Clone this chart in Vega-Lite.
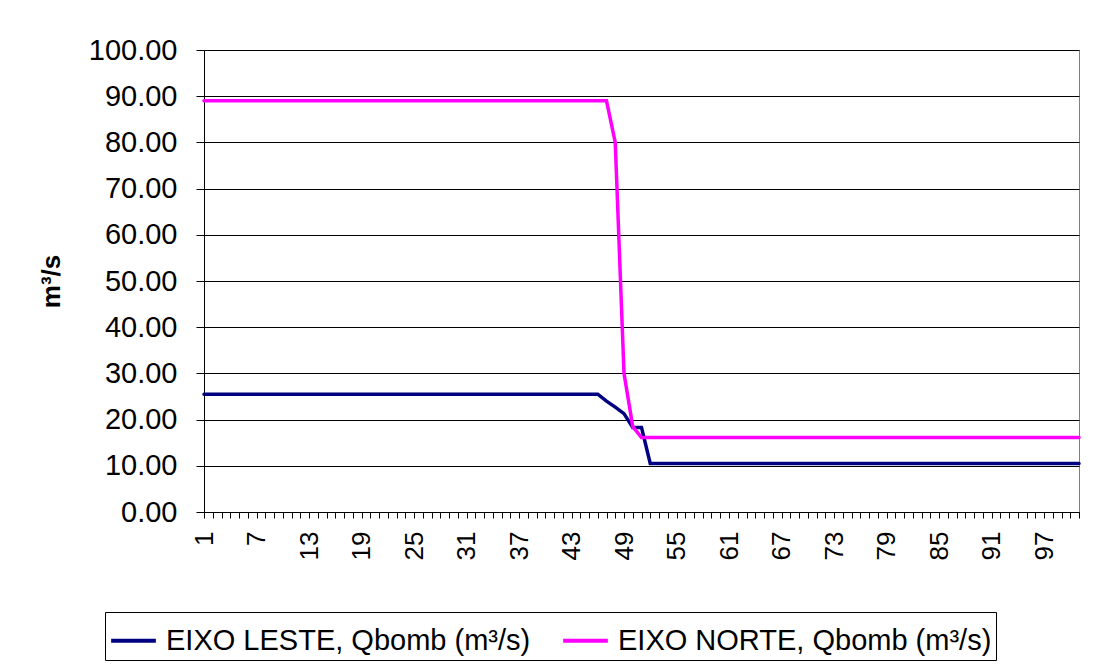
{
  "$schema": "https://vega.github.io/schema/vega-lite/v6.json",
  "autosize": "none",
  "width": 875,
  "height": 462,
  "padding": {"left": 204, "top": 50, "right": 14, "bottom": 156},
  "background": "white",
  "config": {
    "view": {"stroke": "#808080", "strokeWidth": 1},
    "font": "Liberation Sans"
  },
  "data": {
    "values": [
      {"x": 1, "leste": 25.5, "norte": 89.0},
      {"x": 2, "leste": 25.5, "norte": 89.0},
      {"x": 3, "leste": 25.5, "norte": 89.0},
      {"x": 4, "leste": 25.5, "norte": 89.0},
      {"x": 5, "leste": 25.5, "norte": 89.0},
      {"x": 6, "leste": 25.5, "norte": 89.0},
      {"x": 7, "leste": 25.5, "norte": 89.0},
      {"x": 8, "leste": 25.5, "norte": 89.0},
      {"x": 9, "leste": 25.5, "norte": 89.0},
      {"x": 10, "leste": 25.5, "norte": 89.0},
      {"x": 11, "leste": 25.5, "norte": 89.0},
      {"x": 12, "leste": 25.5, "norte": 89.0},
      {"x": 13, "leste": 25.5, "norte": 89.0},
      {"x": 14, "leste": 25.5, "norte": 89.0},
      {"x": 15, "leste": 25.5, "norte": 89.0},
      {"x": 16, "leste": 25.5, "norte": 89.0},
      {"x": 17, "leste": 25.5, "norte": 89.0},
      {"x": 18, "leste": 25.5, "norte": 89.0},
      {"x": 19, "leste": 25.5, "norte": 89.0},
      {"x": 20, "leste": 25.5, "norte": 89.0},
      {"x": 21, "leste": 25.5, "norte": 89.0},
      {"x": 22, "leste": 25.5, "norte": 89.0},
      {"x": 23, "leste": 25.5, "norte": 89.0},
      {"x": 24, "leste": 25.5, "norte": 89.0},
      {"x": 25, "leste": 25.5, "norte": 89.0},
      {"x": 26, "leste": 25.5, "norte": 89.0},
      {"x": 27, "leste": 25.5, "norte": 89.0},
      {"x": 28, "leste": 25.5, "norte": 89.0},
      {"x": 29, "leste": 25.5, "norte": 89.0},
      {"x": 30, "leste": 25.5, "norte": 89.0},
      {"x": 31, "leste": 25.5, "norte": 89.0},
      {"x": 32, "leste": 25.5, "norte": 89.0},
      {"x": 33, "leste": 25.5, "norte": 89.0},
      {"x": 34, "leste": 25.5, "norte": 89.0},
      {"x": 35, "leste": 25.5, "norte": 89.0},
      {"x": 36, "leste": 25.5, "norte": 89.0},
      {"x": 37, "leste": 25.5, "norte": 89.0},
      {"x": 38, "leste": 25.5, "norte": 89.0},
      {"x": 39, "leste": 25.5, "norte": 89.0},
      {"x": 40, "leste": 25.5, "norte": 89.0},
      {"x": 41, "leste": 25.5, "norte": 89.0},
      {"x": 42, "leste": 25.5, "norte": 89.0},
      {"x": 43, "leste": 25.5, "norte": 89.0},
      {"x": 44, "leste": 25.5, "norte": 89.0},
      {"x": 45, "leste": 25.5, "norte": 89.0},
      {"x": 46, "leste": 25.5, "norte": 89.0},
      {"x": 47, "leste": 24.0, "norte": 89.0},
      {"x": 48, "leste": 22.7, "norte": 80.0},
      {"x": 49, "leste": 21.3, "norte": 30.0},
      {"x": 50, "leste": 18.3, "norte": 18.5},
      {"x": 51, "leste": 18.3, "norte": 16.1},
      {"x": 52, "leste": 10.5, "norte": 16.1},
      {"x": 53, "leste": 10.5, "norte": 16.1},
      {"x": 54, "leste": 10.5, "norte": 16.1},
      {"x": 55, "leste": 10.5, "norte": 16.1},
      {"x": 56, "leste": 10.5, "norte": 16.1},
      {"x": 57, "leste": 10.5, "norte": 16.1},
      {"x": 58, "leste": 10.5, "norte": 16.1},
      {"x": 59, "leste": 10.5, "norte": 16.1},
      {"x": 60, "leste": 10.5, "norte": 16.1},
      {"x": 61, "leste": 10.5, "norte": 16.1},
      {"x": 62, "leste": 10.5, "norte": 16.1},
      {"x": 63, "leste": 10.5, "norte": 16.1},
      {"x": 64, "leste": 10.5, "norte": 16.1},
      {"x": 65, "leste": 10.5, "norte": 16.1},
      {"x": 66, "leste": 10.5, "norte": 16.1},
      {"x": 67, "leste": 10.5, "norte": 16.1},
      {"x": 68, "leste": 10.5, "norte": 16.1},
      {"x": 69, "leste": 10.5, "norte": 16.1},
      {"x": 70, "leste": 10.5, "norte": 16.1},
      {"x": 71, "leste": 10.5, "norte": 16.1},
      {"x": 72, "leste": 10.5, "norte": 16.1},
      {"x": 73, "leste": 10.5, "norte": 16.1},
      {"x": 74, "leste": 10.5, "norte": 16.1},
      {"x": 75, "leste": 10.5, "norte": 16.1},
      {"x": 76, "leste": 10.5, "norte": 16.1},
      {"x": 77, "leste": 10.5, "norte": 16.1},
      {"x": 78, "leste": 10.5, "norte": 16.1},
      {"x": 79, "leste": 10.5, "norte": 16.1},
      {"x": 80, "leste": 10.5, "norte": 16.1},
      {"x": 81, "leste": 10.5, "norte": 16.1},
      {"x": 82, "leste": 10.5, "norte": 16.1},
      {"x": 83, "leste": 10.5, "norte": 16.1},
      {"x": 84, "leste": 10.5, "norte": 16.1},
      {"x": 85, "leste": 10.5, "norte": 16.1},
      {"x": 86, "leste": 10.5, "norte": 16.1},
      {"x": 87, "leste": 10.5, "norte": 16.1},
      {"x": 88, "leste": 10.5, "norte": 16.1},
      {"x": 89, "leste": 10.5, "norte": 16.1},
      {"x": 90, "leste": 10.5, "norte": 16.1},
      {"x": 91, "leste": 10.5, "norte": 16.1},
      {"x": 92, "leste": 10.5, "norte": 16.1},
      {"x": 93, "leste": 10.5, "norte": 16.1},
      {"x": 94, "leste": 10.5, "norte": 16.1},
      {"x": 95, "leste": 10.5, "norte": 16.1},
      {"x": 96, "leste": 10.5, "norte": 16.1},
      {"x": 97, "leste": 10.5, "norte": 16.1},
      {"x": 98, "leste": 10.5, "norte": 16.1},
      {"x": 99, "leste": 10.5, "norte": 16.1},
      {"x": 100, "leste": 10.5, "norte": 16.1},
      {"x": 101, "leste": 10.5, "norte": 16.1}
    ]
  },
  "transform": [
    {"fold": ["leste", "norte"], "as": ["key", "value"]},
    {"lookup": "key", "from": {"data": {"values": [
      {"key": "leste", "serie": "EIXO LESTE, Qbomb (m³/s)"},
      {"key": "norte", "serie": "EIXO NORTE, Qbomb (m³/s)"}
    ]}, "key": "key", "fields": ["serie"]}}
  ],
  "mark": {"type": "line", "strokeWidth": 3.5, "strokeCap": "round", "strokeJoin": "miter"},
  "encoding": {
    "x": {
      "field": "x",
      "type": "quantitative",
      "scale": {"domain": [1, 101], "nice": false, "zero": false},
      "axis": {
        "title": null,
        "values": [1,2,3,4,5,6,7,8,9,10,11,12,13,14,15,16,17,18,19,20,21,22,23,24,25,26,27,28,29,30,31,32,33,34,35,36,37,38,39,40,41,42,43,44,45,46,47,48,49,50,51,52,53,54,55,56,57,58,59,60,61,62,63,64,65,66,67,68,69,70,71,72,73,74,75,76,77,78,79,80,81,82,83,84,85,86,87,88,89,90,91,92,93,94,95,96,97,98,99,100,101],
        "labelExpr": "(datum.value - 1) % 6 == 0 ? datum.label : ''",
        "labelAngle": -90,
        "labelOverlap": false,
        "labelBound": false,
        "labelFlush": false,
        "labelFontSize": 26,
        "labelColor": "#000",
        "labelPadding": 13,
        "tickSize": 6,
        "tickColor": "#000",
        "domainColor": "#000",
        "grid": false
      }
    },
    "y": {
      "field": "value",
      "type": "quantitative",
      "scale": {"domain": [0, 100], "nice": false},
      "axis": {
        "title": "m³/s",
        "titleFontSize": 26,
        "titleFontWeight": "bold",
        "titleColor": "#000",
        "titlePadding": 24,
        "values": [0, 10, 20, 30, 40, 50, 60, 70, 80, 90, 100],
        "format": ".2f",
        "labelFontSize": 29,
        "labelColor": "#000",
        "labelPadding": 19,
        "tickSize": 8,
        "tickColor": "#000",
        "domainColor": "#000",
        "grid": true,
        "gridColor": "#000",
        "gridWidth": 1
      }
    },
    "color": {
      "field": "serie",
      "type": "nominal",
      "scale": {
        "domain": ["EIXO LESTE, Qbomb (m³/s)", "EIXO NORTE, Qbomb (m³/s)"],
        "range": ["#000080", "#FF00FF"]
      },
      "legend": {
        "title": null,
        "orient": "none",
        "legendX": -99,
        "legendY": 562,
        "direction": "horizontal",
        "symbolType": "stroke",
        "symbolSize": 2000,
        "symbolStrokeWidth": 4,
        "labelFontSize": 29,
        "labelColor": "#000",
        "labelLimit": 500,
        "labelOffset": 8,
        "columnPadding": 24,
        "padding": 4,
        "strokeColor": "#000",
        "fillColor": "white"
      }
    }
  }
}
